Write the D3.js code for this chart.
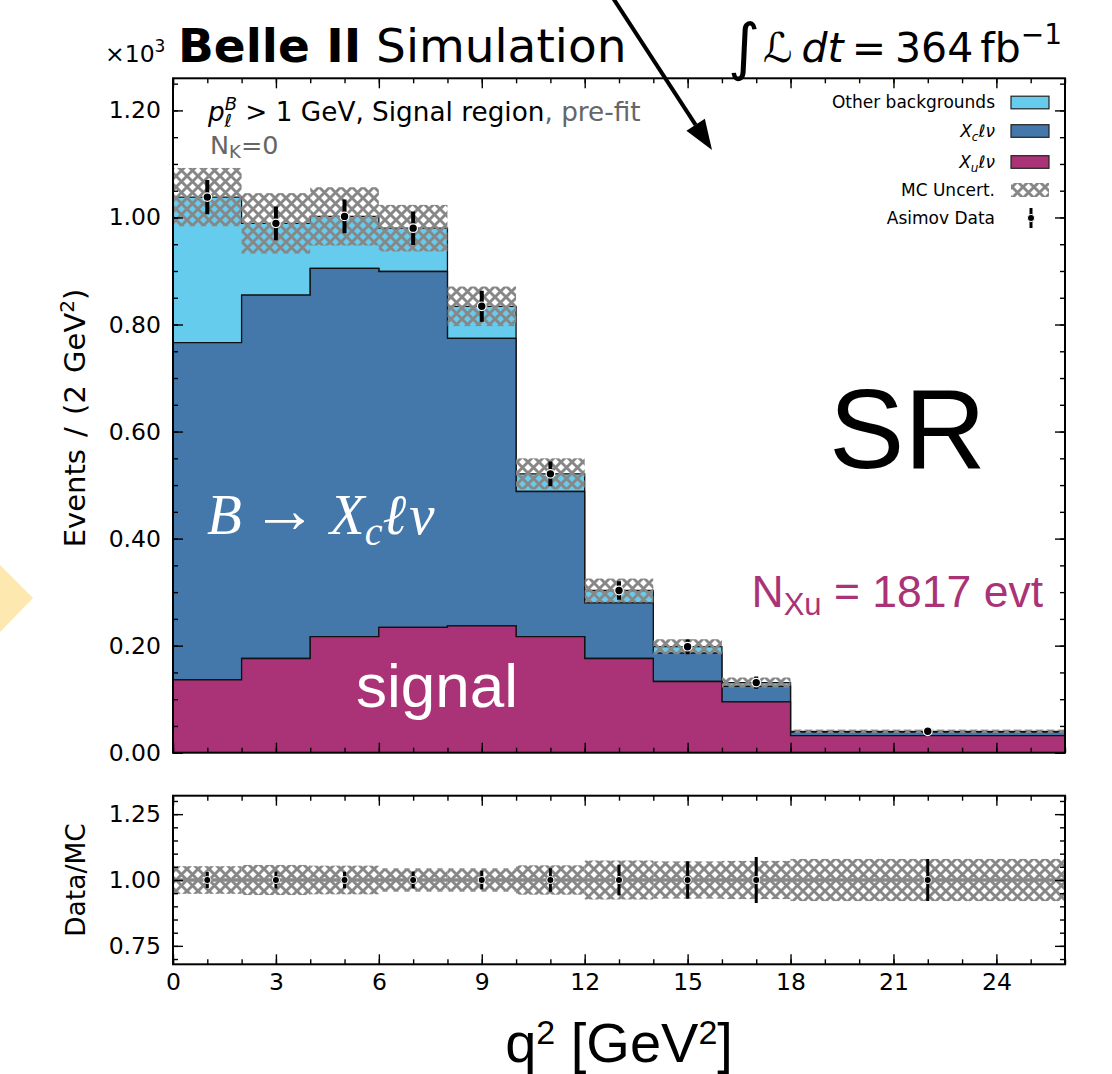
<!DOCTYPE html>
<html>
<head>
<meta charset="utf-8">
<script src="https://cdn.jsdelivr.net/npm/d3@7"></script>
<style>
  body { margin: 0; background: #fff; }
  svg text { font-family: "DejaVu Sans", sans-serif; }
</style>
</head>
<body>
<svg id="chart" width="1112" height="1074"></svg>
<script>
// ---- data (units of 10^3 events / 2 GeV^2) ----
const binEdges   = [0, 2, 4, 6, 8, 10, 12, 14, 16, 18, 26];
const xuVals     = [0.136, 0.176, 0.217, 0.234, 0.237, 0.217, 0.176, 0.133, 0.095, 0.032];
const xcVals     = [0.630, 0.679, 0.688, 0.665, 0.537, 0.271, 0.104, 0.053, 0.029, 0.0066];
const otherVals  = [0.272, 0.134, 0.097, 0.081, 0.060, 0.033, 0.023, 0.012, 0.007, 0.0014];
const mcUncert   = [0.0545, 0.0565, 0.0545, 0.0435, 0.037, 0.029, 0.0224, 0.014, 0.0095, 0.0032];
const asimovVals = [1.038, 0.989, 1.002, 0.980, 0.834, 0.521, 0.303, 0.198, 0.131, 0.040];
const asimovErr  = [0.032, 0.0315, 0.0317, 0.0313, 0.029, 0.023, 0.0174, 0.014, 0.0114, 0.0032];
const asimovX    = [1, 3, 5, 7, 9, 11, 13, 15, 17, 22];

const xMajor     = [0, 3, 6, 9, 12, 15, 18, 21, 24];
const yMajor     = [0, 0.2, 0.4, 0.6, 0.8, 1.0, 1.2];
const ratioMajor = [0.75, 1.0, 1.25];

const colOther = '#66CCEE', colXc = '#4477AA', colXu = '#AA3377';

// ---- layout ----
const svg = d3.select('#chart');
const left = 173, right = 1065;
const mainTop = 78.3, mainBot = 752.7, ratTop = 795.7, ratBot = 964.3;

const x  = d3.scaleLinear().domain([0, 26]).range([left, right]);
const y  = d3.scaleLinear().domain([0, 1.26]).range([mainBot, mainTop]);
const yr = d3.scaleLinear().domain([0.68, 1.32]).range([ratBot, ratTop]);

const defs = svg.append('defs');
const pat = defs.append('pattern')
    .attr('id', 'hatch')
    .attr('patternUnits', 'userSpaceOnUse')
    .attr('width', 11).attr('height', 11);
pat.append('path')
    .attr('d', 'M0,0L11,11M11,0L0,11')
    .attr('stroke', '#878787').attr('stroke-width', 2.9);

defs.append('clipPath').attr('id', 'clipMain')
  .append('rect').attr('x', left).attr('y', mainTop)
    .attr('width', right - left).attr('height', mainBot - mainTop);
defs.append('clipPath').attr('id', 'clipRatio')
  .append('rect').attr('x', left).attr('y', ratTop)
    .attr('width', right - left).attr('height', ratBot - ratTop);

// cumulative stacks
const nb = xuVals.length;
const c1 = xuVals.slice();
const c2 = xuVals.map((v, i) => v + xcVals[i]);
const c3 = c2.map((v, i) => v + otherVals[i]);
const zeros = xuVals.map(() => 0);

function stepArea(lo, hi) {
  const pts = [];
  for (let i = 0; i < nb; i++) {
    pts.push([x(binEdges[i]), y(hi[i])], [x(binEdges[i + 1]), y(hi[i])]);
  }
  for (let i = nb - 1; i >= 0; i--) {
    pts.push([x(binEdges[i + 1]), y(lo[i])], [x(binEdges[i]), y(lo[i])]);
  }
  return d3.line()(pts) + 'Z';
}

// ---- main panel ----
const main = svg.append('g').attr('clip-path', 'url(#clipMain)');

[[c2, c3, colOther], [c1, c2, colXc], [zeros, c1, colXu]].forEach(([lo, hi, col]) => {
  main.append('path')
      .attr('d', stepArea(lo, hi))
      .attr('fill', col)
      .attr('stroke', '#111')
      .attr('stroke-width', 1.3)
      .attr('stroke-linejoin', 'miter');
});

main.selectAll('.mcunc')
  .data(d3.range(nb))
  .join('rect')
    .attr('x', i => x(binEdges[i]))
    .attr('width', i => x(binEdges[i + 1]) - x(binEdges[i]))
    .attr('y', i => y(c3[i] + mcUncert[i]))
    .attr('height', i => y(c3[i] - mcUncert[i]) - y(c3[i] + mcUncert[i]))
    .attr('fill', 'url(#hatch)');

main.selectAll('.err')
  .data(d3.range(nb))
  .join('line')
    .attr('x1', i => x(asimovX[i])).attr('x2', i => x(asimovX[i]))
    .attr('y1', i => y(asimovVals[i] - asimovErr[i]))
    .attr('y2', i => y(asimovVals[i] + asimovErr[i]))
    .attr('stroke', '#000').attr('stroke-width', 4);

main.selectAll('.pt')
  .data(d3.range(nb))
  .join('circle')
    .attr('cx', i => x(asimovX[i]))
    .attr('cy', i => y(asimovVals[i]))
    .attr('r', 4.3)
    .attr('fill', '#000').attr('stroke', '#fff').attr('stroke-width', 1.2);

// ---- ratio panel ----
const rat = svg.append('g').attr('clip-path', 'url(#clipRatio)');

rat.selectAll('.runc')
  .data(d3.range(nb))
  .join('rect')
    .attr('x', i => x(binEdges[i]))
    .attr('width', i => x(binEdges[i + 1]) - x(binEdges[i]))
    .attr('y', i => yr(1 + mcUncert[i] / c3[i]))
    .attr('height', i => yr(1 - mcUncert[i] / c3[i]) - yr(1 + mcUncert[i] / c3[i]))
    .attr('fill', 'url(#hatch)');

rat.append('line')
    .attr('x1', left).attr('x2', right)
    .attr('y1', yr(1)).attr('y2', yr(1))
    .attr('stroke', '#888').attr('stroke-width', 3.5);

rat.selectAll('.rerr')
  .data(d3.range(nb))
  .join('line')
    .attr('x1', i => x(asimovX[i])).attr('x2', i => x(asimovX[i]))
    .attr('y1', i => yr(asimovVals[i] / c3[i] - asimovErr[i] / c3[i]))
    .attr('y2', i => yr(asimovVals[i] / c3[i] + asimovErr[i] / c3[i]))
    .attr('stroke', '#000').attr('stroke-width', 3);

rat.selectAll('.rpt')
  .data(d3.range(nb))
  .join('circle')
    .attr('cx', i => x(asimovX[i]))
    .attr('cy', i => yr(asimovVals[i] / c3[i]))
    .attr('r', 3.6)
    .attr('fill', '#000').attr('stroke', '#fff').attr('stroke-width', 1);

// ---- axes: inward ticks on all four sides ----
function tickAxes(yScale, yMaj, yMin, top, bot, xLabels) {
  const fmt = d3.format('.2f');
  const xMinor = d3.range(0, 27, 1);

  const drawn = [
    [d3.axisBottom(x).tickValues(xMajor).tickSize(-10).tickPadding(9)
       .tickFormat(xLabels ? d3.format('d') : ''), `translate(0,${bot})`],
    [d3.axisBottom(x).tickValues(xMinor).tickSize(-5).tickFormat(''), `translate(0,${bot})`],
    [d3.axisTop(x).tickValues(xMajor).tickSize(-10).tickFormat(''), `translate(0,${top})`],
    [d3.axisTop(x).tickValues(xMinor).tickSize(-5).tickFormat(''), `translate(0,${top})`],
    [d3.axisLeft(yScale).tickValues(yMaj).tickSize(-10).tickPadding(12).tickFormat(fmt), `translate(${left},0)`],
    [d3.axisLeft(yScale).tickValues(yMin).tickSize(-5).tickFormat(''), `translate(${left},0)`],
    [d3.axisRight(yScale).tickValues(yMaj).tickSize(-10).tickFormat(''), `translate(${right},0)`],
    [d3.axisRight(yScale).tickValues(yMin).tickSize(-5).tickFormat(''), `translate(${right},0)`]
  ];
  drawn.forEach(([ax, tr]) => {
    svg.append('g')
        .attr('transform', tr)
        .call(ax)
        .call(g => g.select('.domain').remove())
        .call(g => g.selectAll('line').attr('stroke', '#000').attr('stroke-width', 1.4))
        .call(g => g.selectAll('text')
            .attr('fill', '#000')
            .style('font-family', '"DejaVu Sans", sans-serif')
            .style('font-size', '23.5px'));
  });

  svg.append('rect')
      .attr('x', left).attr('y', top)
      .attr('width', right - left).attr('height', bot - top)
      .attr('fill', 'none').attr('stroke', '#000').attr('stroke-width', 2);
}

tickAxes(y, yMajor, d3.range(0, 1.2601, 0.05).map(v => +v.toFixed(2)), mainTop, mainBot, false);
tickAxes(yr, ratioMajor, d3.range(0.70, 1.3201, 0.05).map(v => +v.toFixed(2)), ratTop, ratBot, true);

// ---- axis titles ----
const yLab = svg.append('text')
    .attr('transform', 'translate(85,418) rotate(-90)')
    .attr('text-anchor', 'middle')
    .style('font-size', '29px')
    .style('word-spacing', '3px');
yLab.append('tspan').text('Events / (2 GeV');
yLab.append('tspan').attr('dy', -11).style('font-size', '20px').text('2');
yLab.append('tspan').attr('dy', 11).text(')');

svg.append('text')
    .attr('transform', 'translate(85,880) rotate(-90)')
    .attr('text-anchor', 'middle')
    .style('font-size', '26.5px')
    .text('Data/MC');

const xLab = svg.append('text')
    .attr('x', 619).attr('y', 1062)
    .attr('text-anchor', 'middle')
    .style('font-family', '"Liberation Sans", Arial, sans-serif')
    .style('font-size', '56px');
xLab.append('tspan').text('q');
xLab.append('tspan').attr('dy', -18).style('font-size', '34px').text('2');
xLab.append('tspan').attr('dy', 18).text(' [GeV');
xLab.append('tspan').attr('dy', -18).style('font-size', '34px').text('2');
xLab.append('tspan').attr('dy', 18).text(']');

// ---- header ----
const sci = svg.append('text').attr('x', 105).attr('y', 62).style('font-size', '23.5px');
sci.append('tspan').text('×10');
sci.append('tspan').attr('dy', -10).style('font-size', '17px').text('3');

const belle = svg.append('text').attr('x', 178).attr('y', 62).style('font-size', '47px');
belle.append('tspan').style('font-weight', 'bold').text('Belle II');
belle.append('tspan').text(' Simulation');

const lumi = svg.append('text')
    .attr('x', 1062).attr('y', 62)
    .attr('text-anchor', 'end')
    .style('font-size', '41px');
lumi.append('tspan').attr('dy', 6).style('font-size', '62px').text('∫');
lumi.append('tspan').attr('dy', -6).attr('dx', 3).style('font-style', 'italic').text('ℒ');
lumi.append('tspan').attr('dx', 9).style('font-style', 'italic').text('dt');
lumi.append('tspan').attr('dx', 8).text('=');
lumi.append('tspan').attr('dx', 9).text('364');
lumi.append('tspan').attr('dx', 7).text('fb');
lumi.append('tspan').attr('dy', -18).style('font-size', '28px').text('−1');

// ---- selection text ----
const sel = svg.append('text').attr('x', 208).attr('y', 121).style('font-size', '26.3px');
sel.append('tspan').style('font-style', 'italic').text('p');
sel.append('tspan').attr('dy', -11).style('font-size', '18px').style('font-style', 'italic').text('B');
sel.append('tspan').attr('dx', -12.5).attr('dy', 17).style('font-size', '18px').style('font-style', 'italic').text('ℓ');
sel.append('tspan').attr('dx', 5).attr('dy', -6).text(' > 1 GeV, Signal region');
sel.append('tspan').attr('fill', '#666').text(', pre-fit');

const nk = svg.append('text').attr('x', 210).attr('y', 154)
    .attr('fill', '#666').style('font-size', '25.5px');
nk.append('tspan').text('N');
nk.append('tspan').attr('dy', 4).style('font-size', '18px').text('K');
nk.append('tspan').attr('dy', -4).text('=0');

// ---- in-plot labels ----
svg.append('text')
    .attr('x', 829).attr('y', 468)
    .style('font-family', '"Liberation Sans", Arial, sans-serif')
    .style('font-size', '113px')
    .text('SR');

const nxu = svg.append('text')
    .attr('x', 1043).attr('y', 607)
    .attr('text-anchor', 'end')
    .attr('fill', colXu)
    .style('font-family', '"Liberation Sans", Arial, sans-serif')
    .style('font-size', '44.5px');
nxu.append('tspan').text('N');
nxu.append('tspan').attr('dy', 8).style('font-size', '31px').text('Xu');
nxu.append('tspan').attr('dy', -8).text(' = 1817 evt');

const bx = svg.append('text')
    .attr('x', 207).attr('y', 534)
    .attr('fill', '#fff')
    .style('font-family', '"Liberation Serif", "Times New Roman", serif')
    .style('font-size', '57px');
bx.append('tspan').style('font-style', 'italic').text('B');
bx.append('tspan').attr('dx', 10).attr('dy', -2).style('font-size', '66px').text('→');
bx.append('tspan').attr('dx', 12).attr('dy', 2).style('font-style', 'italic').text('X');
bx.append('tspan').attr('dy', 11).style('font-style', 'italic').style('font-size', '40px').text('c');
bx.append('tspan').attr('dy', -11).style('font-style', 'italic').text('ℓ');
bx.append('tspan').attr('dx', 3).style('font-style', 'italic').text('ν');

svg.append('text')
    .attr('x', 356).attr('y', 707)
    .attr('fill', '#fff')
    .style('font-family', '"Liberation Sans", Arial, sans-serif')
    .style('font-size', '62px')
    .text('signal');

// ---- legend ----
const legendRows = [
  { label: 'Other backgrounds', kind: 'fill', color: colOther, y: 102.5 },
  { label: 'X|c|ℓν', kind: 'fill', color: colXc, y: 131 },
  { label: 'X|u|ℓν', kind: 'fill', color: colXu, y: 162 },
  { label: 'MC Uncert.', kind: 'hatch', y: 190 },
  { label: 'Asimov Data', kind: 'data', y: 218 }
];
const leg = svg.append('g');
legendRows.forEach(r => {
  const t = leg.append('text')
      .attr('x', 995).attr('y', r.y).attr('dy', '0.35em')
      .attr('text-anchor', 'end')
      .style('font-size', '17px');
  if (r.label.includes('|')) {
    const [a, b, c] = r.label.split('|');
    t.append('tspan').style('font-style', 'italic').text(a);
    t.append('tspan').attr('dy', 4).style('font-size', '12px').style('font-style', 'italic').text(b);
    t.append('tspan').attr('dy', -4).style('font-style', 'italic').text(c);
  } else {
    t.text(r.label);
  }
  if (r.kind === 'fill') {
    leg.append('rect')
        .attr('x', 1011).attr('y', r.y - 6.3).attr('width', 38).attr('height', 12.6)
        .attr('fill', r.color).attr('stroke', '#222').attr('stroke-width', 1.2);
  } else if (r.kind === 'hatch') {
    leg.append('rect')
        .attr('x', 1011).attr('y', r.y - 7).attr('width', 38).attr('height', 14)
        .attr('fill', 'url(#hatch)');
  } else {
    leg.append('line')
        .attr('x1', 1031).attr('x2', 1031).attr('y1', r.y - 10).attr('y2', r.y + 10)
        .attr('stroke', '#000').attr('stroke-width', 3);
    leg.append('circle')
        .attr('cx', 1031).attr('cy', r.y).attr('r', 3.6)
        .attr('fill', '#000').attr('stroke', '#fff').attr('stroke-width', 1);
  }
});

// ---- overlay decorations ----
const tip = [712, 150], tail = [613, -2];
const len = Math.hypot(tip[0] - tail[0], tip[1] - tail[1]);
const ux = (tip[0] - tail[0]) / len, uy = (tip[1] - tail[1]) / len;
const headL = 30, headW = 11;
const base = [tip[0] - headL * ux, tip[1] - headL * uy];
svg.append('line')
    .attr('x1', tail[0]).attr('y1', tail[1])
    .attr('x2', base[0]).attr('y2', base[1])
    .attr('stroke', '#000').attr('stroke-width', 4);
svg.append('path')
    .attr('d', d3.line()([tip,
        [base[0] - headW * uy, base[1] + headW * ux],
        [base[0] + headW * uy, base[1] - headW * ux]]) + 'Z')
    .attr('fill', '#000');

svg.append('path')
    .attr('d', d3.line()([[0, 565], [33, 598], [0, 632]]) + 'Z')
    .attr('fill', '#FDE8B0');
</script>
</body>
</html>
